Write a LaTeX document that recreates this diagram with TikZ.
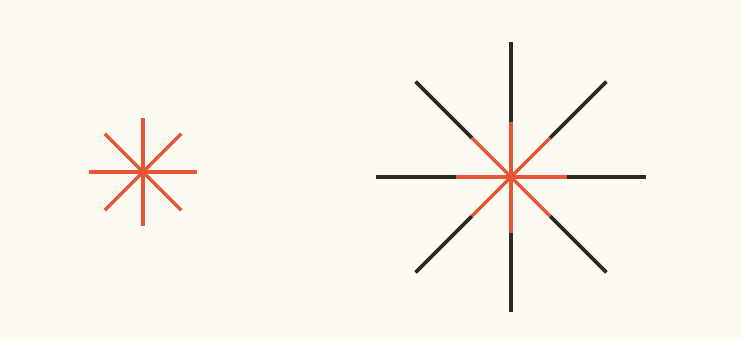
\documentclass[tikz,border=0pt]{standalone}
\definecolor{paper}{RGB}{253,251,241}
\definecolor{rayred}{RGB}{231,86,52}
\definecolor{raydark}{RGB}{42,42,38}
\tikzset{
  ray/.style={line width=3.2pt, line cap=butt},
  darkray/.style={line width=3.6pt, line cap=butt, raydark},
}
\begin{document}
\begin{tikzpicture}[x=1pt,y=-1pt]
\fill[paper] (0,0) rectangle (741,340);
\useasboundingbox (0,0) rectangle (741,340);
% small star
\coordinate (sc) at (143,172);
\foreach \a in {0,45,...,315}{
  \draw[ray, rayred] (sc) -- ++(\a:54);
}
% large star
\coordinate (lc) at (511,177);
\foreach \a in {0,45,...,315}{
  \draw[darkray] (lc) ++(\a:55) -- ++(\a:80);
  \draw[ray, rayred] (lc) -- ++(\a:55.5);
}
\end{tikzpicture}
\end{document}
